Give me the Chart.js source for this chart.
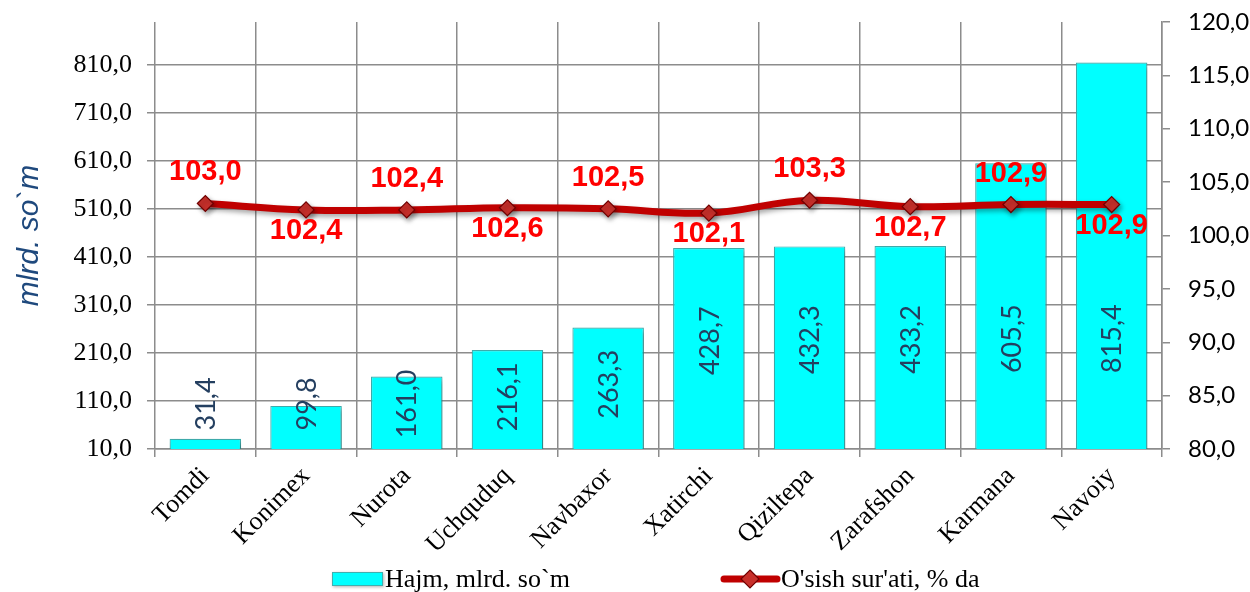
<!DOCTYPE html>
<html>
<head>
<meta charset="utf-8">
<script src="https://cdn.jsdelivr.net/npm/chart.js@4.4.0/dist/chart.umd.min.js"></script>
<style>
  html, body { margin: 0; padding: 0; background: #fff; }
  #cv { width: 1250px; height: 592px; }
</style>
</head>
<body>
<div id="cv"><canvas id="c" width="1250" height="592"></canvas></div>
<script>
// data
var districts = ["Tomdi", "Konimex", "Nurota", "Uchquduq", "Navbaxor", "Xatirchi", "Qiziltepa", "Zarafshon", "Karmana", "Navoiy"];
var hajm = [31.4, 99.8, 161.0, 216.1, 263.3, 428.7, 432.3, 433.2, 605.5, 815.4];
var osish = [103.0, 102.4, 102.4, 102.6, 102.5, 102.1, 103.3, 102.7, 102.9, 102.9];
var leftTicks = [10, 110, 210, 310, 410, 510, 610, 710, 810];
var rightTicks = [80, 85, 90, 95, 100, 105, 110, 115, 120];

var barLabel = "Hajm, mlrd. so`m";
var lineLabel = "O'sish sur'ati, % da";
var gridCol = '#8c8c8c';

function fmt(v) { return Number(v).toFixed(1).replace('.', ','); }

// shadow under bars and line
var shadowPlugin = {
  id: 'shadow',
  beforeDatasetDraw: function (chart, args) {
    var ctx = chart.ctx;
    ctx.save();
    ctx.shadowColor = 'rgba(0,0,0,0.35)';
    ctx.shadowBlur = 5;
    ctx.shadowOffsetX = 2;
    ctx.shadowOffsetY = 3;
  },
  afterDatasetDraw: function (chart) { chart.ctx.restore(); }
};

// value labels
var labelPlugin = {
  id: 'vals',
  afterDatasetsDraw: function (chart) {
    var ctx = chart.ctx;
    var ys = chart.scales.y;
    var barMeta = chart.getDatasetMeta(1);
    ctx.save();
    ctx.font = '27px Lato';
    ctx.fillStyle = '#243F60';
    ctx.textAlign = 'center';
    ctx.textBaseline = 'middle';
    for (var i = 0; i < barMeta.data.length; i++) {
      var el = barMeta.data[i];
      var cv = Math.min(Math.max(hajm[i] * 0.55, 104), 240);
      var y = ys.getPixelForValue(cv);
      ctx.save();
      ctx.translate(el.x, y);
      ctx.rotate(-Math.PI / 2);
      ctx.fillText(fmt(hajm[i]), 0, 1);
      ctx.restore();
    }
    var lineMeta = chart.getDatasetMeta(0);
    ctx.font = 'bold 29px "Liberation Sans"';
    ctx.fillStyle = '#FF0000';
    for (var j = 0; j < lineMeta.data.length; j++) {
      var p = lineMeta.data[j];
      var dy = (j % 2 == 0) ? -31 : 21;
      ctx.fillText(fmt(osish[j]), p.x, p.y + dy);
    }
    ctx.restore();
  }
};

// legend at the bottom
var legendPlugin = {
  id: 'leg',
  afterDraw: function (chart) {
    var ctx = chart.ctx;
    var ly = 579;
    ctx.save();
    ctx.shadowColor = 'rgba(0,0,0,0.3)';
    ctx.shadowBlur = 3;
    ctx.shadowOffsetX = 1;
    ctx.shadowOffsetY = 1;
    ctx.fillStyle = '#00FFFF';
    ctx.fillRect(332, ly - 7, 51, 14);
    ctx.shadowColor = 'transparent';
    ctx.strokeStyle = '#3FAFAF';
    ctx.lineWidth = 1;
    ctx.strokeRect(332.5, ly - 6.5, 50, 13);
    ctx.strokeStyle = '#C00000';
    ctx.lineWidth = 7;
    ctx.lineCap = 'round';
    ctx.beginPath();
    ctx.moveTo(724, ly);
    ctx.lineTo(777, ly);
    ctx.stroke();
    ctx.fillStyle = '#C8302B';
    ctx.strokeStyle = '#700000';
    ctx.lineWidth = 1.2;
    ctx.beginPath();
    ctx.moveTo(750, ly - 9);
    ctx.lineTo(759, ly);
    ctx.lineTo(750, ly + 9);
    ctx.lineTo(741, ly);
    ctx.closePath();
    ctx.fill();
    ctx.stroke();
    ctx.fillStyle = '#000';
    ctx.font = '26px "Liberation Serif"';
    ctx.textAlign = 'left';
    ctx.textBaseline = 'middle';
    ctx.fillText(barLabel, 385, ly + 1);
    ctx.fillText(lineLabel, 781, ly + 1);
    ctx.restore();
  }
};

function noPad(s) { s.paddingTop = 0; s.paddingBottom = 0; }

var ctx = document.getElementById('c').getContext('2d');
var chart = new Chart(ctx, {
  data: {
    labels: districts,
    datasets: [
      {
        type: 'line',
        label: lineLabel,
        data: osish,
        yAxisID: 'y1',
        order: 1,
        borderColor: '#C00000',
        borderWidth: 7,
        tension: 0.4,
        pointStyle: 'rectRot',
        pointRadius: 8,
        pointBackgroundColor: '#C8302B',
        pointBorderColor: '#700000',
        pointBorderWidth: 1.2
      },
      {
        type: 'bar',
        label: barLabel,
        data: hajm,
        yAxisID: 'y',
        order: 2,
        backgroundColor: '#00FFFF',
        borderColor: '#3FAFAF',
        borderWidth: 1.2,
        barPercentage: 0.71,
        categoryPercentage: 1.0
      }
    ]
  },
  options: {
    responsive: false,
    animation: false,
    layout: { padding: { top: 22, left: 0, right: 0, bottom: 0 } },
    plugins: { legend: { display: false }, tooltip: { enabled: false } },
    scales: {
      x: {
        offset: true,
        grid: { offset: true, color: gridCol, lineWidth: 1.5, tickLength: 8, tickColor: gridCol },
        border: { display: true, color: gridCol, width: 1.5 },
        ticks: {
          color: '#000',
          font: { family: '"Liberation Serif"', size: 26 },
          maxRotation: 45, minRotation: 45, padding: 4, autoSkip: false
        },
        afterFit: function (s) { s.height = 143; s.paddingLeft = 0; s.paddingRight = 0; }
      },
      y: {
        position: 'left',
        min: 10, max: 900,
        afterBuildTicks: function (s) { s.ticks = leftTicks.map(function (v) { return { value: v }; }); },
        grid: { color: gridCol, lineWidth: 1.5, tickLength: 8, tickColor: gridCol },
        border: { display: false },
        ticks: {
          color: '#000',
          font: { family: '"Liberation Serif"', size: 26 },
          padding: 15,
          callback: function (v) { return fmt(v); }
        },
        title: {
          display: true,
          text: 'mlrd. so`m',
          color: '#1F497D',
          font: { family: '"Liberation Sans"', size: 30, style: 'italic' },
          padding: { top: 12, bottom: 0 }
        },
        afterFit: function (s) { s.width = 155; noPad(s); }
      },
      y1: {
        position: 'right',
        min: 80, max: 120,
        afterBuildTicks: function (s) { s.ticks = rightTicks.map(function (v) { return { value: v }; }); },
        grid: { drawOnChartArea: false, tickLength: 8, tickColor: gridCol, lineWidth: 1.5 },
        border: { display: true, color: gridCol, width: 1.5 },
        ticks: {
          color: '#000',
          font: { family: 'Lato', size: 24 },
          padding: 18,
          callback: function (v) { return fmt(v); }
        },
        afterFit: function (s) { s.width = 88; noPad(s); }
      }
    }
  },
  plugins: [shadowPlugin, labelPlugin, legendPlugin]
});
</script>
</body>
</html>
